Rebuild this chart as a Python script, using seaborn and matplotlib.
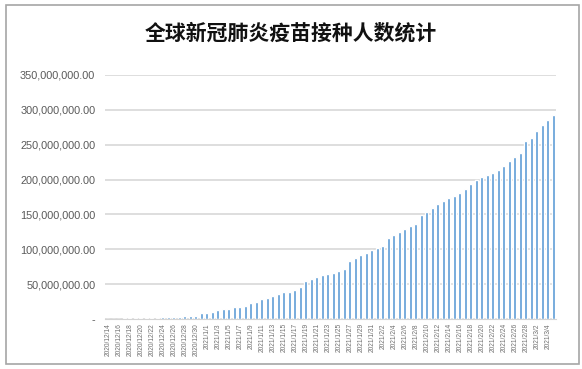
import matplotlib
matplotlib.use('Agg')
import matplotlib.pyplot as plt
import seaborn as sns
import pandas as pd
from matplotlib.patches import Rectangle
from matplotlib.ticker import FuncFormatter

# categories: one bar per day
dates = pd.date_range('2020-12-14', periods=82)
date_labels = [f'{d.year}/{d.month}/{d.day}' for d in dates]

# cumulative people vaccinated, in millions
vaccinated_m = [
    0.1, 0.3, 0.5, 0.8, 1.0, 1.2, 1.4, 1.6, 1.8, 2.0,
    2.3, 2.6, 3.0, 3.5, 4.4, 4.8, 5.0, 8.7, 8.9, 10.6,
    13.5, 13.7, 15.0, 16.5, 17.8, 19.3, 23.1, 24.5, 29.3, 29.6,
    33.7, 36.5, 38.9, 39.4, 40.9, 46.2, 54.8, 57.7, 60.1, 63.5,
    64.0, 66.7, 69.0, 72.0, 83.0, 88.0, 92.0, 95.0, 99.0, 102.0,
    105.0, 116.0, 120.0, 125.0, 129.0, 133.0, 136.0, 149.0, 153.0, 159.0,
    165.0, 169.0, 173.0, 176.0, 181.0, 186.0, 193.0, 199.0, 203.0, 206.0,
    210.0, 214.0, 220.0, 226.0, 232.0, 238.0, 255.0, 259.0, 270.0, 278.0,
    286.0, 293.0,
]
y_ticks = [0, 50e6, 100e6, 150e6, 200e6, 250e6, 300e6, 350e6]

df = pd.DataFrame({'date': date_labels,
                   'people': [v * 1e6 for v in vaccinated_m]})

sns.set_style('white')
plt.rcParams['font.family'] = ['Noto Sans CJK SC', 'DejaVu Sans']

fig = plt.figure(figsize=(5.82, 3.69), dpi=100)
ax = fig.add_axes([105 / 582, 50 / 369, 451 / 582, 244 / 369])

sns.barplot(data=df, x='date', y='people', color='#5B9BD5',
            saturation=1, width=0.46, ax=ax)

# y axis in accounting style
ax.set_ylim(0, 350e6)
ax.set_yticks(y_ticks)
ax.yaxis.set_major_formatter(
    FuncFormatter(lambda v, _: '-' if v == 0 else f'{v:,.2f}'))
ax.yaxis.grid(True, color='#D4D4D4', lw=1.1)
ax.set_axisbelow(True)
for lbl in ax.get_yticklabels():
    lbl.set_family('Liberation Sans')
    lbl.set_fontsize(7.8)
    lbl.set_color('#595959')

# x axis: every other date
ax.set_xlim(-0.5, len(date_labels) - 0.5)
ax.set_xticks(range(0, len(date_labels), 2))
ax.set_xticklabels(date_labels[::2], rotation=90, fontsize=4.8,
                   color='#707070', family='Liberation Sans')
ax.tick_params(axis='both', length=0)
ax.tick_params(axis='y', pad=7)
ax.tick_params(axis='x', pad=3)
ax.set_xlabel('')
ax.set_ylabel('')

for side in ['left', 'top', 'right']:
    ax.spines[side].set_visible(False)
ax.spines['bottom'].set_color('#D4D4D4')

fig.text(0.5, 0.91, '全球新冠肺炎疫苗接种人数统计', ha='center', va='center',
         fontsize=15, fontweight='bold', color='#111111')

# chart border
fig.add_artist(Rectangle((6 / 582, 5 / 369), 573 / 582, 359 / 369,
                         transform=fig.transFigure, fill=False,
                         edgecolor='#A6A6A6', lw=1.2))

fig.savefig('out.png', dpi=100)
